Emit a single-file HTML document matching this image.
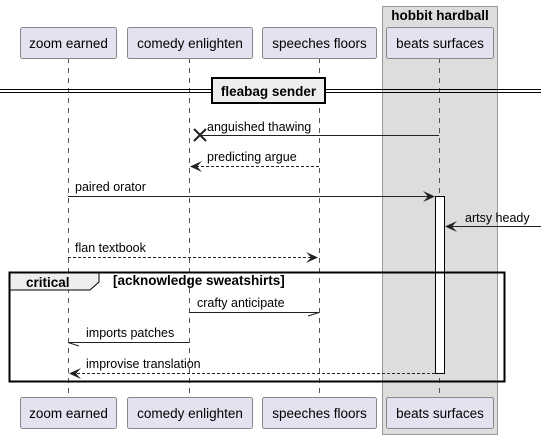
<!DOCTYPE html>
<html><head><style>body{margin:0;background:#fff}svg{display:block}text{font-family:"Liberation Sans",sans-serif;font-size:13.5px;fill:#000}</style></head><body>
<svg width="541" height="439" viewBox="0 0 541 439" xmlns="http://www.w3.org/2000/svg">
<rect x="382.5" y="6.5" width="115" height="428" fill="#dddddd" stroke="#999" />
<text x="440" y="20" text-anchor="middle" font-weight="bold">hobbit hardball</text>
<g stroke="#555" stroke-dasharray="5,5" stroke-width="1">
<line x1="68.5" y1="58" x2="68.5" y2="397"/><line x1="189.5" y1="58" x2="189.5" y2="397"/><line x1="319.5" y1="58" x2="319.5" y2="397"/><line x1="439.5" y1="58" x2="439.5" y2="397"/>
</g>
<g fill="#e2e2f0" stroke="#888">
<rect x="20.5" y="27.5" width="96" height="31" rx="2"/><rect x="127.5" y="27.5" width="125" height="31" rx="2"/><rect x="262.5" y="27.5" width="114" height="31" rx="2"/><rect x="386.5" y="27.5" width="107" height="31" rx="2"/>
<rect x="20.5" y="397.5" width="96" height="31" rx="2"/><rect x="127.5" y="397.5" width="125" height="31" rx="2"/><rect x="262.5" y="397.5" width="114" height="31" rx="2"/><rect x="386.5" y="397.5" width="107" height="31" rx="2"/>
</g>
<g text-anchor="middle"><text x="68.5" y="48">zoom earned</text><text x="190" y="48">comedy enlighten</text><text x="319.5" y="48">speeches floors</text><text x="440" y="48">beats surfaces</text>
<text x="68.5" y="418">zoom earned</text><text x="190" y="418">comedy enlighten</text><text x="319.5" y="418">speeches floors</text><text x="440" y="418">beats surfaces</text></g>
<line x1="0" y1="89.5" x2="541" y2="89.5" stroke="#000"/><line x1="0" y1="92.5" x2="541" y2="92.5" stroke="#000"/>
<rect x="212" y="78" width="113" height="25" fill="#eee" stroke="#000" stroke-width="2"/>
<text x="268.5" y="96" text-anchor="middle" font-weight="bold">fleabag sender</text>
<g stroke="#222" fill="none">
<line x1="439" y1="135.5" x2="200" y2="135.5"/>
<path d="M194 129 L206 141 M206 129 L194 141" stroke-width="2"/>
<line x1="319" y1="166.5" x2="191" y2="166.5" stroke-dasharray="3,2"/>
<line x1="68" y1="196.5" x2="434" y2="196.5"/>
<line x1="541" y1="226.5" x2="446" y2="226.5"/>
<line x1="68" y1="257.5" x2="317" y2="257.5" stroke-dasharray="3,2"/>
<line x1="189" y1="312.5" x2="319" y2="312.5"/><path d="M319 312.5 L308 316"/>
<line x1="189" y1="342.5" x2="68" y2="342.5"/><path d="M68 342.5 L79 346"/>
<line x1="435" y1="373.5" x2="70" y2="373.5" stroke-dasharray="3,2"/>
</g>
<g fill="#222">
<path d="M190 166.5 L202 161 L197 166.5 L202 172Z"/>
<path d="M435 196.5 L423 191 L428 196.5 L423 202Z"/>
<path d="M445 226.5 L457 221 L452 226.5 L457 232Z"/>
<path d="M318 257.5 L306 252 L311 257.5 L306 263Z"/>
<path d="M69 373.5 L81 368 L76 373.5 L81 379Z"/>
</g>
<rect x="435.5" y="196.5" width="9" height="177" fill="#fff" stroke="#000"/>
<rect x="9.5" y="272.5" width="495" height="109" fill="none" stroke="#000" stroke-width="2"/>
<path d="M10 273 L99 273 L99 282 L90 290 L10 290Z" fill="#eee" stroke="#000"/>
<text x="26" y="287" font-weight="bold">critical</text>
<text x="113" y="285" font-weight="bold" font-size="11.5">[acknowledge sweatshirts]</text>
<g font-size="12.5">
<text x="207" y="131" style="font-size:12.5px">anguished thawing</text>
<text x="207" y="161" style="font-size:12.5px">predicting argue</text>
<text x="75" y="191" style="font-size:12.5px">paired orator</text>
<text x="465" y="222" style="font-size:12.5px">artsy heady</text>
<text x="75" y="252" style="font-size:12.5px">flan textbook</text>
<text x="197" y="307" style="font-size:12.5px">crafty anticipate</text>
<text x="86" y="337" style="font-size:12.5px">imports patches</text>
<text x="86" y="368" style="font-size:12.5px">improvise translation</text>
</g>
</svg></body></html>
